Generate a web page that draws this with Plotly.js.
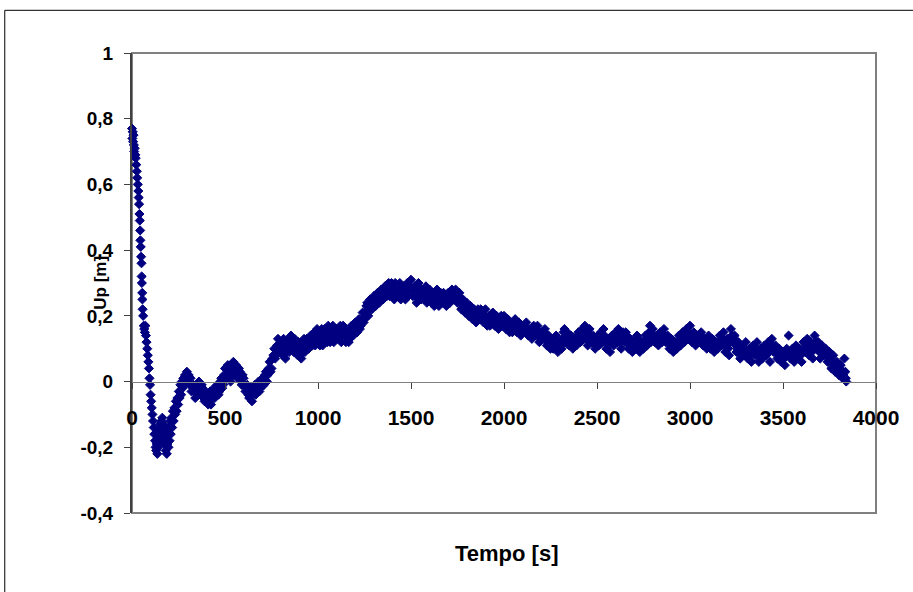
<!DOCTYPE html>
<html>
<head>
<meta charset="utf-8">
<script src="https://cdn.plot.ly/plotly-3.0.1.min.js"></script>
<style>
html,body{margin:0;padding:0;background:#fff;}
#chart{width:913px;height:592px;}
</style>
</head>
<body>
<div id="chart"></div>
<script>
// Tempo [s] (main samples)
var tempo = [
0,2,4,6,8,10,12,15,18,20,23,26,28,31,34,36,38,40,42,44,45,47,49,51,52,53,55,56,57,60,63,66,69,72,75,78,82,85,88,91,94,97,
100,103,106,110,113,117,120,124,127,130,133,136,139,142,145,148,151,154,157,160,163,166,169,172,175,178,181,184,187,190,193,196,199,
202,205,208,212,216,220,224,228,232,236,240,244,248,252,256,260,264,268,272,276,280,285,290,295,
300,305,310,315,320,330,340,350,360,370,380,390,
400,410,420,430,440,450,460,470,480,490,
500,510,520,530,540,550,560,570,580,590,
600,610,620,630,640,650,660,670,680,690,
700,710,720,730,740,750,760,770,780,790,
800,810,820,830,840,850,860,870,880,890,
900,910,920,930,940,950,960,970,980,990,
1000,1010,1020,1030,1040,1050,1060,1070,1080,1090,
1100,1110,1120,1130,1140,1150,1160,1170,1180,1190,
1200,1210,1220,1230,1240,1250,1260,1270,1280,1290,
1300,1310,1320,1330,1340,1350,1360,1370,1380,1390,
1400,1410,1420,1430,1440,1450,1460,1470,1480,1490,
1500,1510,1520,1530,1540,1550,1560,1570,1580,1590,
1600,1610,1620,1630,1640,1650,1660,1670,1680,1690,
1700,1710,1720,1730,1740,1750,1760,1770,1780,1790,
1800,1810,1820,1830,1840,1850,1860,1870,1880,1890,
1900,1910,1920,1930,1940,1950,1960,1970,1980,1990,
2000,2010,2020,2030,2040,2050,2060,2070,2080,2090,
2100,2110,2120,2130,2140,2150,2160,2170,2180,2190,
2200,2210,2220,2230,2240,2250,2260,2270,2280,2290,
2300,2310,2320,2330,2340,2350,2360,2370,2380,2390,
2400,2410,2420,2430,2440,2450,2460,2470,2480,2490,
2500,2510,2520,2530,2540,2550,2560,2570,2580,2590,
2600,2610,2620,2630,2640,2650,2660,2670,2680,2690,
2700,2710,2720,2730,2740,2750,2760,2770,2780,2790,
2800,2810,2820,2830,2840,2850,2860,2870,2880,2890,
2900,2910,2920,2930,2940,2950,2960,2970,2980,2990,
3000,3010,3020,3030,3040,3050,3060,3070,3080,3090,
3100,3110,3120,3130,3140,3150,3160,3170,3180,3190,
3200,3210,3220,3230,3240,3250,3260,3270,3280,3290,
3300,3310,3320,3330,3340,3350,3360,3370,3380,3390,
3400,3410,3420,3430,3440,3450,3460,3470,3480,3490,
3500,3510,3520,3530,3540,3550,3560,3570,3580,3590,
3600,3610,3620,3630,3640,3650,3660,3670,3680,3690,
3700,3710,3720,3730,3740,3750,3760,3770,3780,3790,
3800,3810,3820,3830,3835,3838,3840
];
// Up [m] (main samples)
var up = [
0.77,0.74,0.76,0.73,0.75,0.72,0.70,0.71,0.69,0.68,0.66,0.64,0.62,0.60,0.58,0.56,0.54,0.51,0.49,0.46,0.43,0.41,0.38,0.36,0.32,0.30,0.27,0.25,0.22,0.20,0.17,0.16,0.15,0.17,0.14,0.12,0.10,0.08,0.06,0.04,0.01,-0.01,
-0.04,-0.06,-0.08,-0.10,-0.12,-0.14,-0.16,-0.18,-0.20,-0.21,-0.19,-0.22,-0.17,-0.20,-0.15,-0.18,-0.13,-0.16,-0.12,-0.14,-0.11,-0.15,-0.13,-0.17,-0.19,-0.14,-0.21,-0.17,-0.22,-0.19,-0.16,-0.20,-0.14,
-0.18,-0.12,-0.16,-0.11,-0.14,-0.09,-0.12,-0.08,-0.10,-0.06,-0.09,-0.05,-0.07,-0.03,-0.05,-0.01,-0.04,0.00,-0.02,0.01,-0.01,0.02,0.00,0.03,
0.01,0.02,-0.01,0.01,-0.03,-0.01,-0.05,-0.02,0.00,-0.04,-0.02,-0.06,
-0.04,-0.07,-0.03,-0.05,-0.02,-0.04,-0.01,-0.03,0.01,-0.01,
0.04,0.01,0.03,0.00,0.04,0.02,0.05,0.01,0.03,-0.01,
0.01,-0.03,-0.01,-0.05,-0.02,-0.04,-0.01,-0.03,0.00,-0.02,
0.01,-0.01,0.03,0.02,0.06,0.04,0.08,0.07,0.11,0.09,
0.12,0.08,0.11,0.09,0.13,0.10,0.12,0.09,0.12,0.08,
0.10,0.07,0.11,0.09,0.13,0.10,0.14,0.11,0.15,0.12,
0.14,0.11,0.16,0.13,0.15,0.12,0.16,0.14,0.17,0.13,
0.16,0.13,0.17,0.14,0.16,0.12,0.15,0.13,0.17,0.14,
0.18,0.15,0.19,0.17,0.21,0.19,0.23,0.20,0.25,0.22,
0.26,0.23,0.27,0.24,0.28,0.25,0.29,0.26,0.30,0.27,
0.29,0.25,0.28,0.26,0.30,0.27,0.29,0.25,0.30,0.28,
0.31,0.26,0.29,0.24,0.30,0.27,0.28,0.25,0.29,0.26,
0.28,0.24,0.27,0.25,0.28,0.23,0.27,0.24,0.26,0.23,
0.27,0.24,0.28,0.25,0.28,0.24,0.27,0.22,0.25,0.21,
0.24,0.20,0.23,0.19,0.22,0.18,0.22,0.19,0.21,0.18,
0.22,0.17,0.20,0.18,0.21,0.17,0.20,0.16,0.19,0.17,
0.20,0.16,0.19,0.15,0.18,0.16,0.19,0.15,0.18,0.14,
0.17,0.15,0.18,0.14,0.16,0.13,0.17,0.14,0.17,0.12,
0.15,0.13,0.16,0.11,0.14,0.10,0.13,0.11,0.14,0.09,
0.12,0.10,0.15,0.12,0.15,0.11,0.14,0.10,0.13,0.11,
0.15,0.12,0.16,0.13,0.15,0.11,0.16,0.12,0.14,0.10,
0.13,0.11,0.15,0.12,0.14,0.10,0.13,0.09,0.14,0.11,
0.15,0.12,0.14,0.10,0.15,0.12,0.14,0.10,0.13,0.09,
0.12,0.10,0.13,0.09,0.12,0.10,0.14,0.11,0.15,0.12,
0.16,0.12,0.14,0.11,0.15,0.12,0.16,0.12,0.14,0.10,
0.13,0.09,0.12,0.10,0.14,0.11,0.15,0.12,0.16,0.13,
0.17,0.12,0.15,0.11,0.14,0.12,0.15,0.11,0.13,0.10,
0.14,0.10,0.13,0.09,0.12,0.10,0.14,0.11,0.15,0.09,
0.13,0.08,0.16,0.12,0.14,0.09,0.12,0.07,0.11,0.08,
0.12,0.07,0.10,0.06,0.11,0.08,0.12,0.06,0.10,0.07,
0.11,0.08,0.12,0.06,0.13,0.09,0.11,0.07,0.10,0.06,
0.09,0.05,0.10,0.14,0.07,0.10,0.06,0.11,0.07,0.10,
0.06,0.12,0.09,0.13,0.08,0.12,0.07,0.14,0.10,0.12,
0.07,0.11,0.08,0.10,0.06,0.09,0.04,0.08,0.03,0.06,
0.02,0.05,0.01,0.07,0.03,0.01,0.00
];
// Tempo [s] (intermediate samples)
var tempo2 = [
335,345,355,365,375,385,395,
405,415,425,435,445,455,465,475,485,495,
505,515,525,535,545,555,565,575,585,595,
605,615,625,635,645,655,665,675,685,695,
705,715,725,735,745,755,765,775,785,795,
805,815,825,835,845,855,865,875,885,895,
905,915,925,935,945,955,965,975,985,995,
1005,1015,1025,1035,1045,1055,1065,1075,1085,1095,
1105,1115,1125,1135,1145,1155,1165,1175,1185,1195,
1205,1215,1225,1235,1245,1255,1265,1275,1285,1295,
1305,1315,1325,1335,1345,1355,1365,1375,1385,1395,
1405,1415,1425,1435,1445,1455,1465,1475,1485,1495,
1505,1515,1525,1535,1545,1555,1565,1575,1585,1595,
1605,1615,1625,1635,1645,1655,1665,1675,1685,1695,
1705,1715,1725,1735,1745,1755,1765,1775,1785,1795,
1805,1815,1825,1835,1845,1855,1865,1875,1885,1895,
1905,1915,1925,1935,1945,1955,1965,1975,1985,1995,
2005,2015,2025,2035,2045,2055,2065,2075,2085,2095,
2105,2115,2125,2135,2145,2155,2165,2175,2185,2195,
2205,2215,2225,2235,2245,2255,2265,2275,2285,2295,
2305,2315,2325,2335,2345,2355,2365,2375,2385,2395,
2405,2415,2425,2435,2445,2455,2465,2475,2485,2495,
2505,2515,2525,2535,2545,2555,2565,2575,2585,2595,
2605,2615,2625,2635,2645,2655,2665,2675,2685,2695,
2705,2715,2725,2735,2745,2755,2765,2775,2785,2795,
2805,2815,2825,2835,2845,2855,2865,2875,2885,2895,
2905,2915,2925,2935,2945,2955,2965,2975,2985,2995,
3005,3015,3025,3035,3045,3055,3065,3075,3085,3095,
3105,3115,3125,3135,3145,3155,3165,3175,3185,3195,
3205,3215,3225,3235,3245,3255,3265,3275,3285,3295,
3305,3315,3325,3335,3345,3355,3365,3375,3385,3395,
3405,3415,3425,3435,3445,3455,3465,3475,3485,3495,
3505,3515,3525,3535,3545,3555,3565,3575,3585,3595,
3605,3615,3625,3635,3645,3655,3665,3675,3685,3695,
3705,3715,3725,3735,3745,3755,3765,3775,3785,3795,
3805,3815,3825
];
// Up [m] (intermediate samples)
var up2 = [
-0.03,-0.02,-0.04,-0.02,-0.01,-0.05,-0.03,
-0.06,-0.05,-0.07,-0.03,-0.05,-0.02,-0.04,0.00,-0.02,0.02,
0.02,0.05,0.01,0.03,0.06,0.03,0.03,0.04,0.00,0.02,
-0.01,-0.02,-0.04,-0.03,-0.06,-0.02,-0.04,-0.01,-0.03,0.00,
-0.01,0.02,0.00,0.04,0.03,0.07,0.10,0.08,0.13,0.10,
0.10,0.13,0.07,0.11,0.09,0.14,0.10,0.13,0.10,0.12,
0.08,0.09,0.13,0.11,0.10,0.12,0.12,0.13,0.11,0.16,
0.12,0.14,0.11,0.16,0.13,0.17,0.12,0.15,0.12,0.15,
0.14,0.16,0.12,0.17,0.14,0.15,0.12,0.16,0.15,0.16,
0.16,0.17,0.16,0.19,0.18,0.21,0.24,0.22,0.23,0.24,
0.25,0.25,0.25,0.27,0.26,0.28,0.27,0.28,0.26,0.30,
0.27,0.30,0.27,0.28,0.25,0.28,0.27,0.29,0.26,0.29,
0.28,0.28,0.26,0.27,0.28,0.25,0.27,0.28,0.24,0.27,
0.26,0.27,0.23,0.26,0.25,0.26,0.25,0.27,0.24,0.25,
0.25,0.26,0.26,0.27,0.26,0.26,0.24,0.24,0.23,0.22,
0.22,0.21,0.21,0.20,0.20,0.21,0.20,0.22,0.19,0.20,
0.19,0.19,0.17,0.20,0.19,0.18,0.18,0.18,0.20,0.18,
0.18,0.18,0.17,0.17,0.15,0.18,0.17,0.17,0.16,0.16,
0.16,0.16,0.16,0.15,0.14,0.15,0.15,0.16,0.14,0.14,
0.14,0.15,0.13,0.12,0.12,0.12,0.10,0.13,0.11,0.10,
0.11,0.13,0.16,0.14,0.12,0.13,0.12,0.11,0.12,0.14,
0.13,0.14,0.14,0.17,0.13,0.14,0.14,0.13,0.12,0.11,
0.14,0.13,0.13,0.16,0.12,0.12,0.11,0.12,0.13,0.13,
0.13,0.16,0.12,0.13,0.13,0.15,0.12,0.11,0.11,0.12,
0.11,0.14,0.11,0.12,0.11,0.12,0.12,0.13,0.17,0.13,
0.14,0.13,0.12,0.13,0.13,0.14,0.14,0.13,0.12,0.11,
0.11,0.11,0.11,0.12,0.12,0.13,0.13,0.14,0.14,0.15,
0.14,0.13,0.13,0.13,0.12,0.14,0.13,0.12,0.12,0.12,
0.12,0.12,0.11,0.11,0.11,0.12,0.12,0.13,0.12,0.11,
0.10,0.12,0.14,0.13,0.11,0.10,0.09,0.09,0.10,0.10,
0.09,0.09,0.08,0.09,0.09,0.10,0.09,0.08,0.09,0.09,
0.09,0.10,0.09,0.10,0.11,0.10,0.09,0.08,0.08,0.08,
0.07,0.08,0.08,0.09,0.08,0.08,0.09,0.09,0.08,0.08,
0.09,0.10,0.11,0.10,0.10,0.09,0.11,0.12,0.11,0.09,
0.09,0.09,0.10,0.08,0.08,0.07,0.06,0.05,0.05,0.04,
0.04,0.03,0.02
];
var xTickVals = [0,500,1000,1500,2000,2500,3000,3500,4000];
var xTickText = ['0','500','1000','1500','2000','2500','3000','3500','4000'];
var yTickVals = [-0.4,-0.2,0,0.2,0.4,0.6,0.8,1];
var yTickText = ['-0,4','-0,2','0','0,2','0,4','0,6','0,8','1'];

var fam = '"Liberation Sans", Arial, sans-serif';
var xTickFont = {family:fam, size:21, color:'#000', weight:'bold'};
var yTickFont = {family:fam, size:19, color:'#000', weight:'bold'};
var titleFont = {family:fam, size:17, color:'#000', weight:'bold'};

var allX = tempo.concat(tempo2);
var allY = up.concat(up2);

var trace = {
  x: allX, y: allY, type:'scatter', mode:'markers',
  marker:{symbol:'diamond', size:7, color:'#000080', line:{color:'#000080', width:1}},
  cliponaxis:false, showlegend:false, hoverinfo:'x+y'
};

var layout = {
  width:913, height:592,
  margin:{l:132, r:37, t:53, b:79, pad:0},
  paper_bgcolor:'#fff', plot_bgcolor:'#fff',
  font: titleFont,
  showlegend:false,
  xaxis:{
    range:[0,4000], tickvals:xTickVals, ticktext:xTickText,
    anchor:'free', position:0.2857,
    showline:true, linecolor:'#808080', linewidth:1.5,
    ticks:'outside', ticklen:6, tickwidth:1, tickcolor:'#404040',
    showgrid:false, zeroline:false, tickfont:xTickFont, ticklabelstandoff:11,
    fixedrange:true
  },
  yaxis:{
    range:[-0.4,1], tickvals:yTickVals, ticktext:yTickText,
    showline:true, linecolor:'#404040', linewidth:2,
    ticks:'outside', ticklen:6, tickwidth:1, tickcolor:'#404040',
    showgrid:false, zeroline:false, tickfont:yTickFont, ticklabelstandoff:7,
    fixedrange:true
  },
  shapes:[
    {type:'rect', xref:'paper', yref:'paper', x0:0, x1:1, y0:0, y1:1, line:{color:'#808080', width:2}, layer:'below'},
    {type:'line', xref:'paper', yref:'paper', x0:-0.171, x1:1.2, y0:1.0928, y1:1.0928, line:{color:'#000', width:1}},
    {type:'line', xref:'paper', yref:'paper', x0:-0.171, x1:-0.171, y0:1.0928, y1:-0.3, line:{color:'#000', width:1}}
  ],
  annotations:[
    {text:'Tempo [s]', xref:'paper', yref:'paper', x:0.503, y:-0.088, showarrow:false, xanchor:'center', yanchor:'middle', font:{family:fam, size:22, color:'#000', weight:'bold'}},
    {text:'Up [m]', xref:'paper', yref:'paper', x:-0.0434, y:0.5, showarrow:false, textangle:-90, xanchor:'center', yanchor:'middle', font:titleFont}
  ]
};

Plotly.newPlot('chart', [trace], layout, {displayModeBar:false, staticPlot:true});
</script>
</body>
</html>
